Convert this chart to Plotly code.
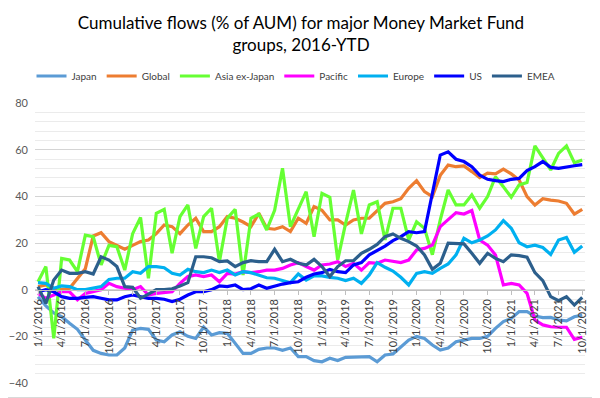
import plotly.graph_objects as go

# ---- data (monthly, 1/1/2016 .. 10/1/2021) ----
months = [f"{m}/1/{y}" for y in range(2016, 2022) for m in range(1, 13)][:70]

japan = [-3, -7, -10, -11.6, -14.4, -17, -21.6, -26, -27.3, -28, -28, -25, -17.3, -16.6, -17, -21.6,
         -22.3, -19.4, -18, -20, -20.9, -16, -19.4, -18.4, -18.7, -23, -27.3, -27.3, -25.6, -25, -25,
         -26, -25, -28.7, -28.7, -30.4, -30.9, -29.4, -30.4, -29, -29, -29, -28.7, -30.9, -28, -27.6,
         -24.4, -21.6, -20, -20.9, -23.7, -25.9, -25, -22.3, -21.6, -20.9, -20.9, -20, -16.6, -13.7,
         -12.3, -9.4, -9.4, -11.3, -12, -11.9, -13, -13.4, -11.6, -10.9]
global_ = [1.3, 2, 0.6, 0, 0.6, 5, 9, 23, 24.4, 20.6, 19, 17.3, 19, 20.6, 21.3, 24, 27.7, 27, 24,
           27.7, 30.6, 24.9, 24.9, 27, 31.3, 30.6, 29, 27, 32.7, 26.3, 25.9, 27, 24.9, 30.6, 28.4,
           35.6, 34, 29.9, 29.9, 27.7, 29.9, 30.6, 30.6, 34, 37, 37.7, 39, 43.4, 46.7, 42, 39.9, 49,
           53.4, 52.7, 53, 50.6, 48, 49.9, 49.6, 51.7, 49.6, 47, 39.9, 36.3, 39, 38.4, 38, 37, 32.4, 34.4]
asia_ex_japan = [3.4, 9.9, -20.9, 13.4, 12.7, 7.7, 23.4, 22.7, 10.6, 19, 18.4, 8.4, 24, 30.9, 4.9,
                 32.7, 34.4, 15.6, 31.3, 36.3, 17.7, 31.3, 34.9, 12, 30.6, 34.4, 6.3, 30.6, 32.4, 25.6,
                 34, 52, 27, 34.9, 42, 22.7, 41.3, 39.6, 12.7, 28.4, 42.7, 23.9, 36.3, 37.7, 21.3, 34.9,
                 34.9, 21.3, 29.1, 26.3, 15, 29.9, 42.7, 36.3, 36.3, 40.6, 34.9, 39.9, 48.4, 44.1, 39.6,
                 44.9, 45.9, 61.6, 56.3, 51.3, 58.4, 61.6, 54.4, 55.6]
pacific = [-1.6, -3.7, -2.3, -0.9, -0.9, -4.4, -1.6, -0.9, 0, 2.7, 1.3, 0.6, 0, 1.3, -2.3, -1.6, -1.3,
           -0.9, 2.7, 5.6, 6.3, 5.6, 6.3, 3.4, 7, 6.7, 7.7, 7.3, 7.7, 8.4, 8.4, 9.1, 10.6, 11.6, 9.9,
           8.4, 10.6, 11, 12, 9.9, 11.3, 8.4, 11.6, 11.3, 12.7, 12.2, 11.6, 12.7, 17, 17.7, 19.1, 27,
           29.9, 33, 32.4, 33.9, 21.3, 19.1, 14.9, 2, 2.7, 2, -1.6, -13, -15.1, -15.9, -16.1, -16.1,
           -21.3, -20.4]
europe = [3, 2.7, 0.6, 1.6, 1.3, 0, 0, 0.6, 1.3, 4.4, 4.9, 4.9, 7.7, 7, 9.9, 9.9, 9.4, 7, 6.3, 8.7,
          7.7, 7.3, 8.4, 7.3, 8.4, 6.3, 7.7, 7.3, 6.3, 5.1, 4.9, 4.1, 3, 6.7, 4.1, 5.9, 5.9, 5.3, 4.9,
          3.9, 4.9, 2.7, 6.3, 11.6, 9.6, 8, 5.3, 2, 7, 7.7, 7, 9.1, 11, 14.9, 22, 20.1, 21.3, 23, 25.6,
          29.6, 26.3, 20.1, 18.4, 19.1, 18.1, 15.1, 21.3, 22.4, 16, 18.7]
us = [-0.9, 0, -0.9, -3, -3.7, -3.7, -3.3, -3, -3.7, -4.4, -4.4, -3, -2.3, -3, -3.7, -3.7, -4.1,
      -5.1, -4.1, -2.3, -0.9, -0.9, 0, 1.6, 1.3, 2, 0, 0.4, 2, 0.6, 1.6, 2.4, 3, 3.4, 5.3, 6.7, 7.3,
      8.7, 7.7, 7.3, 10.6, 11.6, 14.9, 16.7, 18.7, 21, 22.7, 24.9, 24.4, 24.9, 42, 57.7, 59.1, 55.9,
      54.9, 52.7, 49.1, 47.3, 46.7, 46.3, 47.3, 47.7, 51, 52.7, 54.9, 52.4, 52, 52.7, 53.1, 53.6]
emea = [1.3, -5.9, 4.1, 8.4, 7, 7, 7.7, 6.7, 14.1, 12.7, 9.9, 1.3, 1, -3.7, -1.9, 0, 0, 0.4, 1.6,
        3, 14.1, 14.1, 13.7, 12, 12.3, 9.9, 11.6, 12.4, 12, 12, 17.3, 12, 13, 11.3, 10.6, 13, 9.9,
        5.6, 9.9, 12.4, 12.4, 15.6, 17.3, 19.4, 22.7, 23.9, 22, 20.6, 18.7, 14.9, 8.7, 11.3, 19.9,
        19.6, 19.6, 15.6, 11.3, 15.6, 13.4, 12, 14.9, 14.6, 13.9, 7.3, 3.9, -3, -4.7, -3, -6.6, -3.3]

series_names = ["Japan", "Global", "Asia ex-Japan", "Pacific", "Europe", "US", "EMEA"]
series_values = [japan, global_, asia_ex_japan, pacific, europe, us, emea]
series_colors = ["#5B9BD5", "#ED7D31", "#66FF33", "#FF00FF", "#00B0F0", "#0000FF", "#2C5F8C"]

tick_idx = list(range(0, 70, 3))
tick_labels = [months[i] for i in tick_idx]

FONT = "Lato"
idx = list(range(len(months)))

fig = go.Figure()
for name, vals, col in zip(series_names, series_values, series_colors):
    fig.add_trace(go.Scatter(x=idx, y=vals, name=name, mode="lines",
                             line=dict(color=col, width=3.2),
                             customdata=months, hovertemplate="%{customdata}: %{y}<extra>" + name + "</extra>"))

# page body has an 8px margin: the figure is sized to fit the 600x398 window
OFF = 8
W, H = 600 - OFF, 398 - OFF
L, R, T, B = 35 - OFF, 15, 103 - OFF, 15
pw, ph = W - L - R, H - T - B

fig.update_layout(
    width=W, height=H,
    margin=dict(l=L, r=R, t=T, b=B, autoexpand=False),
    paper_bgcolor="white", plot_bgcolor="white",
    font=dict(family=FONT, color="#595959", size=11),
    title=dict(text="Cumulative flows (% of AUM) for major Money Market Fund<br>groups, 2016-YTD",
               x=(301 - OFF) / W, xref="container", xanchor="center",
               y=1 - 21 / H, yref="container", yanchor="top",
               font=dict(family=FONT, size=17, color="#000000")),
    legend=dict(orientation="h", x=0.4865, xanchor="center", xref="container",
                y=1 - (76 - OFF) / H, yanchor="middle", yref="container",
                font=dict(family=FONT, size=10, color="#404040"),
                itemwidth=30, tracegroupgap=0),
    showlegend=True,
    xaxis=dict(range=[-0.38, 69.35], tickmode="array", tickvals=tick_idx, ticktext=tick_labels,
               tickangle=-90, anchor="free", position=1 / 3, showgrid=False, automargin=False,
               showline=True, linecolor="#BFBFBF", linewidth=1,
               ticks="outside", ticklen=4, tickcolor="#BFBFBF",
               tickfont=dict(family=FONT, size=11, color="#404040"), zeroline=False),
    yaxis=dict(range=[-40, 80], dtick=20, tick0=0, showgrid=True, gridcolor="#D4D4D4", gridwidth=1,
               minor=dict(dtick=4, showgrid=True, gridcolor="#EBEBEB", gridwidth=1), automargin=False,
               zeroline=False, showline=False, ticks="", ticklabelstandoff=6,
               tickfont=dict(family=FONT, size=11, color="#595959")),
    hovermode="closest",
)

# chart border (right and bottom edges fall inside the figure)
fig.add_shape(type="rect", xref="paper", yref="paper",
              x0=(0.5 - L - OFF) / pw, x1=(W - 0.5 - L) / pw,
              y0=(T + ph - (H - 0.5)) / ph, y1=(T + ph - 0.5 + OFF) / ph,
              line=dict(color="#D9D9D9", width=1), layer="below")

fig.write_html("out.html")
